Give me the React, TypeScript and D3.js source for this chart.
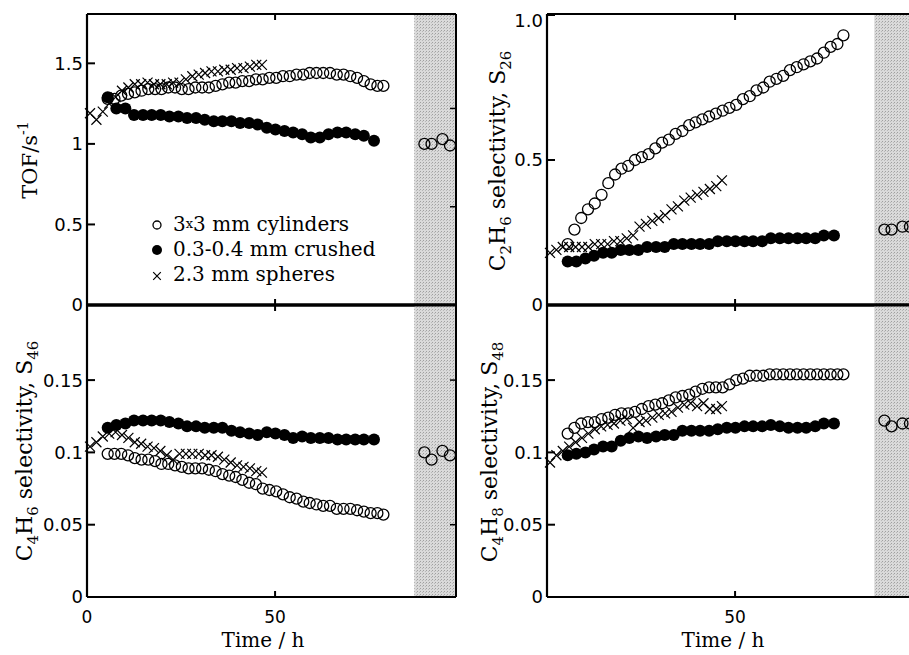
import React from "react";
import * as d3 from "d3";

// ---------- data ----------
const crushTimes = [5.5, 7.8, 10.2, 12.5, 14.9, 17.2, 19.6, 21.9, 24.3, 26.6, 29.0, 31.3, 33.7, 36.0, 38.4, 40.7, 43.1, 45.4, 47.8, 50.1, 52.5, 54.8, 57.2, 59.5, 61.9, 64.2, 66.6, 68.9, 71.3, 73.6, 76.3];
const cylTimes = [5.5, 7.3, 9.1, 10.9, 12.7, 14.5, 16.3, 18.1, 19.8, 21.6, 23.4, 25.2, 27.0, 28.8, 30.6, 32.4, 34.2, 36.0, 37.8, 39.5, 41.3, 43.1, 44.9, 46.7, 48.5, 50.3, 52.1, 53.9, 55.7, 57.5, 59.2, 61.0, 62.8, 64.6, 66.4, 68.2, 70.0, 71.8, 73.6, 75.4, 77.2, 78.8];
const sphTimes = [0.8, 2.5, 4.2, 5.9, 7.6, 9.3, 11.0, 12.7, 14.4, 16.1, 17.8, 19.5, 21.2, 22.9, 24.6, 26.3, 28.0, 29.7, 31.4, 33.1, 34.8, 36.5, 38.2, 39.9, 41.6, 43.3, 45.0, 46.5];
const lateTimes = [89.7, 91.6, 94.5, 96.5];

// TOF / s^-1
const tofCyl = [1.28, 1.28, 1.30, 1.31, 1.32, 1.33, 1.34, 1.34, 1.34, 1.35, 1.35, 1.34, 1.34, 1.35, 1.35, 1.35, 1.36, 1.37, 1.38, 1.38, 1.39, 1.39, 1.40, 1.40, 1.41, 1.41, 1.42, 1.42, 1.43, 1.43, 1.44, 1.44, 1.44, 1.44, 1.43, 1.43, 1.42, 1.41, 1.39, 1.37, 1.36, 1.36];
const tofCrush = [1.29, 1.22, 1.22, 1.18, 1.18, 1.18, 1.18, 1.17, 1.17, 1.16, 1.16, 1.15, 1.14, 1.14, 1.14, 1.13, 1.13, 1.12, 1.10, 1.09, 1.08, 1.07, 1.06, 1.04, 1.04, 1.06, 1.07, 1.07, 1.06, 1.05, 1.02];
const tofSph = [1.19, 1.15, 1.20, 1.25, 1.29, 1.33, 1.35, 1.37, 1.37, 1.38, 1.37, 1.37, 1.37, 1.38, 1.38, 1.40, 1.42, 1.43, 1.44, 1.45, 1.45, 1.46, 1.46, 1.47, 1.47, 1.48, 1.49, 1.49];
const tofLate = [1.0, 1.0, 1.03, 0.99];

// C2H6 selectivity S26
const s26Cyl = [0.21, 0.26, 0.30, 0.33, 0.35, 0.38, 0.42, 0.45, 0.47, 0.48, 0.50, 0.51, 0.52, 0.54, 0.56, 0.57, 0.59, 0.60, 0.62, 0.63, 0.64, 0.65, 0.66, 0.67, 0.68, 0.69, 0.71, 0.72, 0.74, 0.75, 0.77, 0.78, 0.79, 0.81, 0.82, 0.83, 0.84, 0.85, 0.87, 0.89, 0.90, 0.93];
const s26Crush = [0.15, 0.15, 0.16, 0.17, 0.18, 0.18, 0.19, 0.19, 0.19, 0.20, 0.20, 0.20, 0.21, 0.21, 0.21, 0.21, 0.21, 0.22, 0.22, 0.22, 0.22, 0.22, 0.22, 0.23, 0.23, 0.23, 0.23, 0.23, 0.23, 0.24, 0.24];
const s26Sph = [0.18, 0.19, 0.20, 0.20, 0.20, 0.20, 0.20, 0.21, 0.21, 0.21, 0.22, 0.22, 0.23, 0.24, 0.27, 0.28, 0.29, 0.30, 0.31, 0.33, 0.34, 0.36, 0.37, 0.38, 0.39, 0.40, 0.41, 0.43];
const s26Late = [0.26, 0.26, 0.27, 0.27];

// C4H6 selectivity S46
const s46Cyl = [0.099, 0.099, 0.099, 0.098, 0.096, 0.095, 0.095, 0.094, 0.092, 0.092, 0.091, 0.090, 0.089, 0.089, 0.089, 0.088, 0.087, 0.085, 0.084, 0.083, 0.081, 0.079, 0.078, 0.075, 0.074, 0.073, 0.071, 0.069, 0.068, 0.066, 0.065, 0.064, 0.063, 0.063, 0.061, 0.061, 0.061, 0.060, 0.059, 0.058, 0.058, 0.057];
const s46Crush = [0.117, 0.119, 0.120, 0.122, 0.122, 0.122, 0.122, 0.121, 0.120, 0.118, 0.118, 0.117, 0.117, 0.117, 0.115, 0.114, 0.113, 0.112, 0.114, 0.113, 0.112, 0.110, 0.111, 0.110, 0.110, 0.110, 0.109, 0.109, 0.109, 0.109, 0.109];
const s46Sph = [0.104, 0.107, 0.111, 0.113, 0.114, 0.112, 0.110, 0.107, 0.106, 0.104, 0.103, 0.101, 0.098, 0.095, 0.099, 0.099, 0.099, 0.099, 0.098, 0.098, 0.097, 0.095, 0.093, 0.091, 0.090, 0.089, 0.087, 0.086];
const s46Late = [0.100, 0.095, 0.101, 0.098];

// C4H8 selectivity S48
const s48Cyl = [0.113, 0.117, 0.120, 0.121, 0.121, 0.123, 0.124, 0.126, 0.127, 0.127, 0.128, 0.130, 0.132, 0.133, 0.134, 0.136, 0.138, 0.139, 0.140, 0.142, 0.144, 0.145, 0.145, 0.145, 0.147, 0.150, 0.151, 0.153, 0.153, 0.153, 0.154, 0.154, 0.154, 0.154, 0.154, 0.154, 0.154, 0.154, 0.154, 0.154, 0.154, 0.154];
const s48Crush = [0.098, 0.099, 0.100, 0.102, 0.104, 0.104, 0.108, 0.110, 0.111, 0.110, 0.111, 0.112, 0.112, 0.115, 0.115, 0.115, 0.115, 0.116, 0.117, 0.117, 0.118, 0.118, 0.118, 0.119, 0.118, 0.117, 0.117, 0.117, 0.118, 0.120, 0.120];
const s48Sph = [0.093, 0.098, 0.101, 0.104, 0.107, 0.110, 0.113, 0.116, 0.118, 0.119, 0.120, 0.122, 0.123, 0.117, 0.121, 0.122, 0.124, 0.126, 0.127, 0.128, 0.131, 0.133, 0.134, 0.132, 0.134, 0.130, 0.130, 0.132];
const s48Late = [0.122, 0.118, 0.120, 0.120];

const tofTicks = [0, 0.5, 1, 1.5];
const tofTickLabels = ["0", "0.5", "1", "1.5"];
const tofRightTicks = [0.61, 1.22];
const s26Ticks = [0, 0.5, 1.0];
const s26TickLabels = ["0", "0.5", "1.0"];
const selTicks = [0, 0.05, 0.1, 0.15];
const selTickLabels = ["0", "0.05", "0.1", "0.15"];
const legendLabels = ["3x3 mm cylinders", "0.3-0.4 mm crushed", "2.3 mm spheres"];
const xTickValues = [0, 50];
const xTickLabels = ["0", "50"];
const xAxisTitle = "Time / h";
const xMax = 98.1;
const shadeStart = 87;

// ---------- layout ----------
const W = 909;
const H = 655;
const TOP = 14;
const MID = 305;
const BOT = 597;
const LEFT_COL = { x0: 87, x1: 456 };
const RIGHT_COL = { x0: 547, x1: 916 };

const serif = "'DejaVu Serif', serif";
const sans = "'DejaVu Sans', sans-serif";

type Panel = {
  col: { x0: number; x1: number };
  yTop: number;
  yBot: number;
  yDomain: [number, number];
  yRangeTop: number;
  ticks: number[];
  tickLabels: string[];
  rightTicks: number[];
  cyl: number[];
  crush: number[];
  sph: number[];
  late: number[];
  title: React.ReactNode;
  titleX: number;
  titleY: number;
  titleSize: number;
  bottomAxis: boolean;
  xLabels: number[];
  xTitleX: number;
};

const subTitle = (a: string, s1: string, b: string, s2: string, mid: string, c: string, s3: string) => (
  <>
    {a}
    <tspan dy={6} fontSize="15">{s1}</tspan>
    <tspan dy={-6}>{b}</tspan>
    <tspan dy={6} fontSize="15">{s2}</tspan>
    <tspan dy={-6}>{mid}{c}</tspan>
    <tspan dy={6} fontSize="15">{s3}</tspan>
  </>
);

const panels: Panel[] = [
  {
    col: LEFT_COL, yTop: TOP, yBot: MID, yDomain: [0, 1.8], yRangeTop: 15,
    ticks: tofTicks, tickLabels: tofTickLabels, rightTicks: tofRightTicks,
    cyl: tofCyl, crush: tofCrush, sph: tofSph, late: tofLate,
    title: (<>TOF/s<tspan dy={-9} fontSize="14">-1</tspan></>),
    titleX: 37, titleY: 160, titleSize: 21, bottomAxis: false, xLabels: [], xTitleX: 0,
  },
  {
    col: RIGHT_COL, yTop: TOP, yBot: MID, yDomain: [0, 1], yRangeTop: 15,
    ticks: s26Ticks, tickLabels: s26TickLabels, rightTicks: [],
    cyl: s26Cyl, crush: s26Crush, sph: s26Sph, late: s26Late,
    title: subTitle("C", "2", "H", "6", " selectivity, ", "S", "26"),
    titleX: 505, titleY: 161, titleSize: 22, bottomAxis: false, xLabels: [], xTitleX: 0,
  },
  {
    col: LEFT_COL, yTop: MID, yBot: BOT, yDomain: [0, 0.2], yRangeTop: 307.8,
    ticks: selTicks, tickLabels: selTickLabels, rightTicks: [0.05, 0.15],
    cyl: s46Cyl, crush: s46Crush, sph: s46Sph, late: s46Late,
    title: subTitle("C", "4", "H", "6", " selectivity, ", "S", "46"),
    titleX: 32, titleY: 451, titleSize: 22, bottomAxis: true, xLabels: [0, 1], xTitleX: 263,
  },
  {
    col: RIGHT_COL, yTop: MID, yBot: BOT, yDomain: [0, 0.2], yRangeTop: 307.8,
    ticks: selTicks, tickLabels: selTickLabels, rightTicks: [],
    cyl: s48Cyl, crush: s48Crush, sph: s48Sph, late: s48Late,
    title: subTitle("C", "4", "H", "8", " selectivity, ", "S", "48"),
    titleX: 497, titleY: 452, titleSize: 22, bottomAxis: true, xLabels: [1], xTitleX: 723,
  },
];

function OpenC({ x, y, r = 5.5 }: { x: number; y: number; r?: number }) {
  return <circle cx={x} cy={y} r={r} fill="none" stroke="#000" strokeWidth={1.3} />;
}
function FillC({ x, y, r = 6 }: { x: number; y: number; r?: number }) {
  return <circle cx={x} cy={y} r={r} fill="#000" />;
}
function Cross({ x, y, s = 5 }: { x: number; y: number; s?: number }) {
  return (
    <path
      d={`M${x - s},${y - s}L${x + s},${y + s}M${x - s},${y + s}L${x + s},${y - s}`}
      stroke="#000"
      strokeWidth={1.2}
      fill="none"
    />
  );
}

function PanelView({ p }: { p: Panel }) {
  const x = d3.scaleLinear().domain([0, xMax]).range([p.col.x0, p.col.x1]);
  const y = d3.scaleLinear().domain(p.yDomain).range([p.yBot, p.yRangeTop]);
  const tickLen = 8;
  return (
    <g>
      {/* shaded region */}
      <rect
        x={x(shadeStart)}
        y={p.yTop}
        width={x(xMax) - x(shadeStart)}
        height={p.yBot - p.yTop}
        fill="url(#dots)"
      />
      {/* data */}
      {p.cyl.map((v, i) => (
        <OpenC key={"c" + i} x={x(cylTimes[i])} y={y(v)} />
      ))}
      {p.crush.map((v, i) => (
        <FillC key={"f" + i} x={x(crushTimes[i])} y={y(v)} />
      ))}
      {p.sph.map((v, i) => (
        <Cross key={"s" + i} x={x(sphTimes[i])} y={y(v)} />
      ))}
      {p.late.map((v, i) => (
        <OpenC key={"l" + i} x={x(lateTimes[i])} y={y(v)} />
      ))}
      {/* frame */}
      <line x1={p.col.x0} x2={p.col.x0} y1={p.yTop} y2={p.yBot} stroke="#000" strokeWidth={2.2} />
      <line x1={p.col.x1} x2={p.col.x1} y1={p.yTop} y2={p.yBot} stroke="#000" strokeWidth={2} />
      <line x1={p.col.x0} x2={p.col.x1} y1={p.yTop} y2={p.yTop} stroke="#000" strokeWidth={p.yTop === MID ? 3 : 2} />
      <line x1={p.col.x0} x2={p.col.x1} y1={p.yBot} y2={p.yBot} stroke="#000" strokeWidth={p.yBot === MID ? 3 : 2} />
      {/* y ticks */}
      {p.ticks.map((t, i) => (
        <g key={"yt" + i}>
          <line x1={p.col.x0} x2={p.col.x0 + tickLen} y1={y(t)} y2={y(t)} stroke="#000" strokeWidth={2} />
          <text
            x={p.col.x0 - 4}
            y={Math.max(y(t), p.yTop + 7)}
            dy="0.36em"
            textAnchor="end"
            fontFamily={sans}
            fontSize={18}
          >
            {p.tickLabels[i]}
          </text>
        </g>
      ))}
      {p.rightTicks.map((t, i) => (
        <line key={"rt" + i} x1={p.col.x1} x2={p.col.x1 - 6} y1={y(t)} y2={y(t)} stroke="#000" strokeWidth={1.5} />
      ))}
      {/* x ticks at 50, inside top and bottom */}
      <line x1={x(50)} x2={x(50)} y1={p.yTop} y2={p.yTop + 6} stroke="#000" strokeWidth={2} />
      <line x1={x(50)} x2={x(50)} y1={p.yBot} y2={p.yBot - 6} stroke="#000" strokeWidth={2} />
      {p.bottomAxis &&
        p.xLabels.map((k) => (
          <text
            key={"xl" + k}
            x={x(xTickValues[k])}
            y={p.yBot + 26}
            textAnchor="middle"
            fontFamily={sans}
            fontSize={17}
          >
            {xTickLabels[k]}
          </text>
        ))}
      {p.bottomAxis && (
        <text x={p.xTitleX} y={p.yBot + 50} textAnchor="middle" fontFamily={serif} fontSize={20}>
          {xAxisTitle}
        </text>
      )}
      {/* y title */}
      <text
        transform={`translate(${p.titleX},${p.titleY}) rotate(-90)`}
        textAnchor="middle"
        fontFamily={serif}
        fontSize={p.titleSize}
      >
        {p.title}
      </text>
    </g>
  );
}

function Legend() {
  const x0 = 157;
  const rows = [225, 250, 275];
  return (
    <g fontFamily={serif} fontSize={20}>
      <OpenC x={x0} y={rows[0]} r={4} />
      <FillC x={x0} y={rows[1]} r={5} />
      <Cross x={x0} y={rows[2] + 1} s={3.8} />
      <text x={173} y={rows[0] + 6}>
        3<tspan fontSize={13} dy={-3}>x</tspan>
        <tspan dy={3}>{legendLabels[0].slice(2)}</tspan>
      </text>
      <text x={173} y={rows[1] + 6}>{legendLabels[1]}</text>
      <text x={173} y={rows[2] + 6}>{legendLabels[2]}</text>
    </g>
  );
}

export default function App() {
  return (
    <svg
      width={W}
      height={H}
      viewBox={`0 0 ${W} ${H}`}
      style={{ position: "absolute", left: 0, top: 0, background: "#fff" }}
    >
      <defs>
        <pattern id="dots" width="3" height="3" patternUnits="userSpaceOnUse">
          <rect width="3" height="3" fill="#dadada" />
          <rect x="0" y="0" width="1" height="1" fill="#a0a0a0" />
          <rect x="2" y="1" width="1" height="1" fill="#b8b8b8" />
        </pattern>
      </defs>
      <rect width={W} height={H} fill="#fff" />
      {panels.map((p, i) => (
        <PanelView key={i} p={p} />
      ))}
      <Legend />
    </svg>
  );
}
